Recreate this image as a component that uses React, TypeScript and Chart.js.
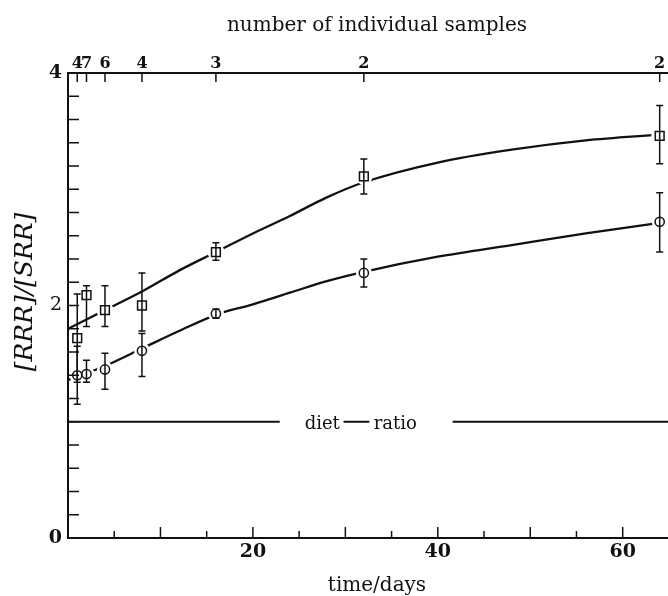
import React, { useEffect, useRef } from 'react';
import { Chart, registerables } from 'chart.js';

Chart.register(...registerables);

// ---- data ----
const sampleDays = [1, 2, 4, 8, 16, 32, 64];
const sampleCounts = ['4', '7', '6', '4', '3', '2', '2'];

const squareMean = [1.72, 2.09, 1.96, 2.0, 2.46, 3.11, 3.46];
const squareLow = [1.34, 1.82, 1.82, 1.78, 2.39, 2.96, 3.22];
const squareHigh = [2.1, 2.17, 2.17, 2.28, 2.54, 3.26, 3.72];

const circleMean = [1.4, 1.41, 1.45, 1.61, 1.93, 2.28, 2.72];
const circleLow = [1.15, 1.34, 1.28, 1.39, 1.89, 2.16, 2.46];
const circleHigh = [1.65, 1.53, 1.59, 1.76, 1.97, 2.4, 2.97];

const fitDays = [0, 4, 8, 12, 16, 20, 24, 28, 32, 40, 48, 56, 64];
const squareFit = [1.8, 1.96, 2.12, 2.3, 2.46, 2.62, 2.77, 2.93, 3.06, 3.23, 3.34, 3.42, 3.47];
const circleFit = [1.36, 1.48, 1.63, 1.78, 1.92, 2.01, 2.11, 2.21, 2.29, 2.42, 2.52, 2.62, 2.71];

const dietLineX = [0, 22.9, 26, 29.8, 32.6, 37, 41.6, 64.9];
const dietLineY = [1, 1, null, 1, 1, null, 1, 1];
const dietLabelText = ['diet', 'ratio'];
const dietLabelX = [27.5, 35.4];

const xLabelDays = [20, 40, 60];
const xMajorTickDays = [10, 20, 30, 40, 50, 60];
const xMinorTickDays = [5, 15, 25, 35, 45, 55];
const yLabelValues = [0, 2, 4];
const yTickValues = [0.2, 0.4, 0.6, 0.8, 1.0, 1.2, 1.4, 1.6, 1.8, 2.0, 2.2, 2.4, 2.6, 2.8, 3.0, 3.2, 3.4, 3.6, 3.8];

const xTitle = 'time/days';
const topTitle = 'number of individual samples';
const yTitle = '[RRR]/[SRR]';

const X_MAX = 64.9;
const INK = '#111';
const SERIF = '"DejaVu Serif", serif';

const toPts = (xs: number[], ys: (number | null)[]) => xs.map((x, i) => ({ x, y: ys[i] }));

const decorPlugin = {
  id: 'decor',
  afterDatasetsDraw(chart: any) {
    const { ctx, chartArea } = chart;
    const x = chart.scales.x;
    const x2 = chart.scales.x2;
    const y = chart.scales.y;
    ctx.save();
    ctx.strokeStyle = INK;
    ctx.fillStyle = INK;
    ctx.lineCap = 'butt';

    // error bars
    ctx.lineWidth = 1.5;
    const bars = (lo: number[], hi: number[]) => {
      sampleDays.forEach((d, i) => {
        const px = x.getPixelForValue(d);
        const yl = y.getPixelForValue(lo[i]);
        const yh = y.getPixelForValue(hi[i]);
        ctx.beginPath();
        ctx.moveTo(px, yl);
        ctx.lineTo(px, yh);
        ctx.moveTo(px - 3.5, yl);
        ctx.lineTo(px + 3.5, yl);
        ctx.moveTo(px - 3.5, yh);
        ctx.lineTo(px + 3.5, yh);
        ctx.stroke();
      });
    };
    bars(squareLow, squareHigh);
    bars(circleLow, circleHigh);

    // inward ticks
    ctx.lineWidth = 1.5;
    const bottom = y.getPixelForValue(0);
    const top = y.getPixelForValue(4);
    const left = x.getPixelForValue(0);
    ctx.beginPath();
    xMajorTickDays.forEach((d) => {
      const px = x.getPixelForValue(d);
      ctx.moveTo(px, bottom);
      ctx.lineTo(px, bottom - 11);
    });
    xMinorTickDays.forEach((d) => {
      const px = x.getPixelForValue(d);
      ctx.moveTo(px, bottom);
      ctx.lineTo(px, bottom - 7);
    });
    yTickValues.forEach((v) => {
      const py = y.getPixelForValue(v);
      ctx.moveTo(left, py);
      ctx.lineTo(left + 11, py);
    });
    sampleDays.forEach((d) => {
      const px = x2.getPixelForValue(d);
      ctx.moveTo(px, top);
      ctx.lineTo(px, top + 9);
    });
    ctx.stroke();

    // diet ratio labels
    ctx.font = '18px ' + SERIF;
    ctx.textAlign = 'center';
    ctx.textBaseline = 'alphabetic';
    dietLabelText.forEach((t, i) => {
      ctx.fillText(t, x.getPixelForValue(dietLabelX[i]), y.getPixelForValue(1) + 7);
    });

    // axis titles
    const cx = (chartArea.left + chartArea.right) / 2 + 9;
    ctx.font = '20px ' + SERIF;
    ctx.textBaseline = 'middle';
    ctx.fillText(topTitle, cx, 26);
    ctx.fillText(xTitle, cx, 586);
    ctx.translate(25, 292);
    ctx.rotate(-Math.PI / 2);
    ctx.font = 'italic 25px ' + SERIF;
    ctx.fillText(yTitle, 0, 0);
    ctx.restore();
  },
};

export default function App() {
  const ref = useRef<HTMLCanvasElement | null>(null);

  useEffect(() => {
    if (!ref.current) return;
    const chart = new Chart(ref.current, {
      type: 'line',
      data: {
        datasets: [
          {
            label: 'square markers',
            data: toPts(sampleDays, squareMean),
            showLine: false,
            pointStyle: 'rect',
            pointRadius: 6.2,
            pointBorderWidth: 1.5,
            pointBorderColor: INK,
            pointBackgroundColor: '#fff',
            order: 0,
          },
          {
            label: 'circle markers',
            data: toPts(sampleDays, circleMean),
            showLine: false,
            pointStyle: 'circle',
            pointRadius: 4.6,
            pointBorderWidth: 1.5,
            pointBorderColor: INK,
            pointBackgroundColor: '#fff',
            order: 0,
          },
          {
            label: 'square halo',
            data: toPts(sampleDays, squareMean),
            showLine: false,
            pointStyle: 'circle',
            pointRadius: 8.5,
            pointBorderWidth: 0,
            pointBorderColor: '#fff',
            pointBackgroundColor: '#fff',
            order: 1,
          },
          {
            label: 'circle halo',
            data: toPts(sampleDays, circleMean),
            showLine: false,
            pointStyle: 'circle',
            pointRadius: 8,
            pointBorderWidth: 0,
            pointBorderColor: '#fff',
            pointBackgroundColor: '#fff',
            order: 1,
          },
          {
            label: 'square fit',
            data: toPts(fitDays, squareFit),
            borderColor: INK,
            borderWidth: 2.3,
            pointRadius: 0,
            cubicInterpolationMode: 'monotone',
            fill: false,
            order: 2,
          },
          {
            label: 'circle fit',
            data: toPts(fitDays, circleFit),
            borderColor: INK,
            borderWidth: 2.3,
            pointRadius: 0,
            cubicInterpolationMode: 'monotone',
            fill: false,
            order: 2,
          },
          {
            label: 'diet ratio',
            data: toPts(dietLineX, dietLineY),
            borderColor: INK,
            borderWidth: 1.8,
            pointRadius: 0,
            spanGaps: false,
            tension: 0,
            fill: false,
            order: 2,
          },
        ],
      },
      options: {
        animation: false,
        responsive: false,
        devicePixelRatio: 1,
        layout: { autoPadding: false, padding: { left: 0, right: 0, top: 0, bottom: 0 } },
        plugins: { legend: { display: false }, tooltip: { enabled: false } },
        scales: {
          x: {
            type: 'linear',
            position: 'bottom',
            min: 0,
            max: X_MAX,
            grid: { display: false, drawTicks: false },
            border: { display: true, color: INK, width: 2 },
            ticks: {
              autoSkip: false,
              maxRotation: 0,
              padding: 3,
              color: INK,
              font: { family: SERIF, size: 19, weight: 'bold' },
              callback: (v: any) => String(v),
            },
            afterBuildTicks: (s: any) => {
              s.ticks = xLabelDays.map((v) => ({ value: v }));
            },
            afterFit: (s: any) => {
              s.height = 58;
              s.paddingLeft = 0;
              s.paddingRight = 0;
            },
            title: { display: false, text: xTitle },
          },
          x2: {
            type: 'linear',
            position: 'top',
            min: 0,
            max: X_MAX,
            grid: { display: false, drawTicks: false },
            border: { display: true, color: INK, width: 2 },
            ticks: {
              autoSkip: false,
              maxRotation: 0,
              padding: 0,
              color: INK,
              font: { family: SERIF, size: 16, weight: 'bold' },
              callback: (_v: any, i: number) => sampleCounts[i],
            },
            afterBuildTicks: (s: any) => {
              s.ticks = sampleDays.map((v) => ({ value: v }));
            },
            afterFit: (s: any) => {
              s.height = 73;
              s.paddingLeft = 0;
              s.paddingRight = 0;
            },
            title: { display: false, text: topTitle },
          },
          y: {
            type: 'linear',
            position: 'left',
            min: 0,
            max: 4,
            grid: { display: false, drawTicks: false },
            border: { display: true, color: INK, width: 2 },
            ticks: {
              autoSkip: false,
              padding: 6,
              color: INK,
              font: (c: any) => ({
                family: SERIF,
                size: 19,
                weight: c.tick && c.tick.value === 2 ? 'normal' : 'bold',
              }),
              callback: (v: any) => String(v),
            },
            afterBuildTicks: (s: any) => {
              s.ticks = yLabelValues.map((v) => ({ value: v }));
            },
            afterFit: (s: any) => {
              s.width = 68;
              s.paddingTop = 0;
              s.paddingBottom = 0;
            },
            title: { display: false, text: yTitle },
          },
        },
      },
      plugins: [decorPlugin],
    } as any);
    return () => chart.destroy();
  }, []);

  return (
    <div style={{ position: 'fixed', left: 0, top: 0, width: 668, height: 596, background: '#fff' }}>
      <canvas ref={ref} width={668} height={596} style={{ width: 668, height: 596, display: 'block' }} />
    </div>
  );
}
